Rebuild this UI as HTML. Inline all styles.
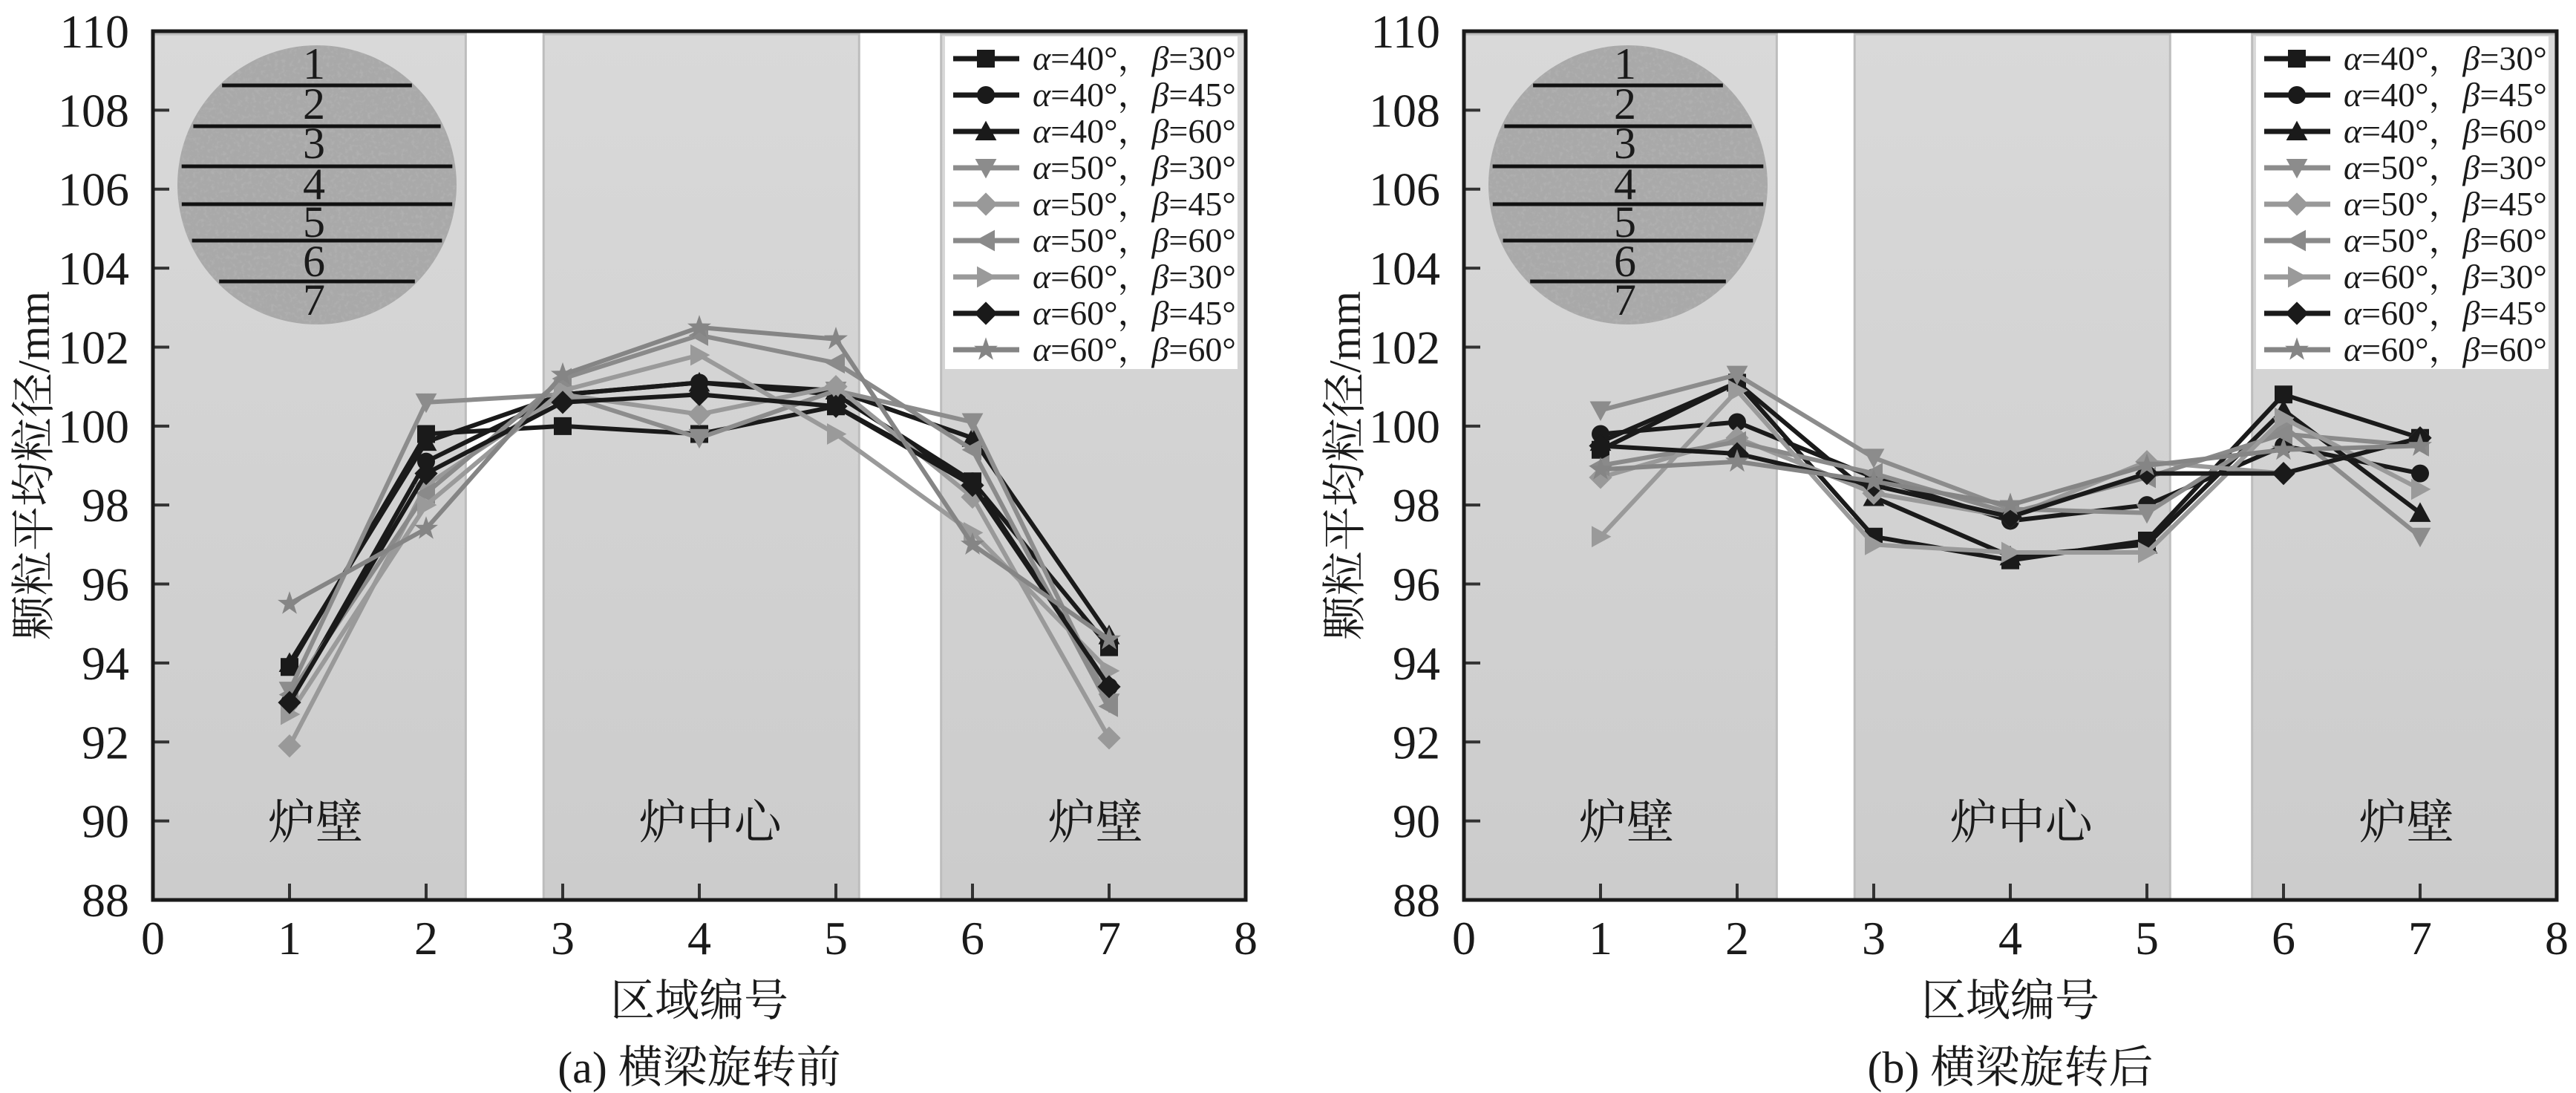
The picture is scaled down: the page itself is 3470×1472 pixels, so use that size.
<!DOCTYPE html>
<html><head><meta charset="utf-8"><style>
html,body{margin:0;padding:0;background:#fff;}
svg{display:block;}
svg text{font-family:"Liberation Serif","Noto Serif CJK SC","DejaVu Serif",serif;fill:#1a1a1a;}
</style></head><body>
<svg id="fig" width="3470" height="1472" viewBox="0 0 3470 1472" xmlns="http://www.w3.org/2000/svg">
<defs>
<filter id="speck" x="0" y="0" width="100%" height="100%">
<feTurbulence type="fractalNoise" baseFrequency="0.2" numOctaves="2" seed="3"/>
<feColorMatrix type="matrix" values="0 0 0 0 0.5  0 0 0 0 0.5  0 0 0 0 0.5  0 0 0 -3 1.6"/>
</filter>
<clipPath id="clipA"><circle cx="427" cy="249" r="188"/></clipPath>
<clipPath id="clipB"><circle cx="2193" cy="249" r="188"/></clipPath>
<linearGradient id="bgGrad" x1="0" y1="0" x2="0" y2="1">
<stop offset="0" stop-color="#d9d9d9"/><stop offset="1" stop-color="#cccccc"/>
</linearGradient>
</defs>
</svg>
<script>
const categories=[1,2,3,4,5,6,7];
const seriesLabels=["α=40°，β=30°","α=40°，β=45°","α=40°，β=60°","α=50°，β=30°","α=50°，β=45°","α=50°，β=60°","α=60°，β=30°","α=60°，β=45°","α=60°，β=60°"];
const yTicks=[88,90,92,94,96,98,100,102,104,106,108,110];
const xTicks=[0,1,2,3,4,5,6,7,8];
const regionNames=["炉壁","炉中心","炉壁"];
const regionCenters=[1.19,4.08,6.9];
const regionStarts=[0,2.86,5.77];
const regionEnds=[2.29,5.17,8];
const beforeS1=[93.9,99.8,100.0,99.8,100.5,98.6,94.4];
const beforeS2=[93.0,99.1,100.8,101.1,100.8,98.6,93.4];
const beforeS3=[94.0,99.6,100.8,101.1,100.9,99.7,94.7];
const beforeS4=[93.3,100.6,100.8,99.7,100.9,100.1,93.0];
const beforeS5=[91.9,98.5,100.8,100.3,101.0,98.2,92.1];
const beforeS6=[93.2,98.3,101.2,102.3,101.6,99.4,92.9];
const beforeS7=[92.7,98.0,100.9,101.8,99.8,97.3,93.8];
const beforeS8=[93.0,98.8,100.6,100.8,100.5,98.5,93.4];
const beforeS9=[95.5,97.4,101.3,102.5,102.2,97.0,94.6];
const afterS1=[99.4,101.1,97.2,96.6,97.1,100.8,99.7];
const afterS2=[99.8,100.1,98.7,97.6,98.0,99.5,98.8];
const afterS3=[99.6,101.1,98.2,96.7,97.0,100.4,97.8];
const afterS4=[100.4,101.3,99.2,97.9,97.8,100.0,97.2];
const afterS5=[98.7,99.7,98.3,97.7,99.1,98.8,99.7];
const afterS6=[99.0,99.6,98.8,97.8,98.7,99.8,99.5];
const afterS7=[97.2,100.9,97.0,96.8,96.8,100.2,98.4];
const afterS8=[99.5,99.3,98.5,97.7,98.8,98.8,99.7];
const afterS9=[98.9,99.1,98.6,98.0,99.0,99.4,99.5];
const beforeSeries=[beforeS1,beforeS2,beforeS3,beforeS4,beforeS5,beforeS6,beforeS7,beforeS8,beforeS9];
const afterSeries=[afterS1,afterS2,afterS3,afterS4,afterS5,afterS6,afterS7,afterS8,afterS9];
const colors=["#1a1a1a","#1a1a1a","#1a1a1a","#8c8c8c","#999999","#8a8a8a","#9a9a9a","#1a1a1a","#858585"];
const markers=["square","circle","tri-up","tri-down","diamond","tri-left","tri-right","diamond","star"];

const NS="http://www.w3.org/2000/svg";
const SERIF='"Liberation Serif","Noto Serif CJK SC","DejaVu Serif",serif';
const CJK='"Noto Serif CJK SC","Liberation Serif",serif';
const svg=document.getElementById('fig');
function mk(tag,attrs,parent){const e=document.createElementNS(NS,tag);for(const k in attrs)e.setAttribute(k,attrs[k]);if(tag==='text'&&!attrs['font-family'])e.setAttribute('font-family',SERIF);(parent||svg).appendChild(e);return e;}
function markerPath(type,cx,cy,s){
  switch(type){
    case"square":return `M${cx-s} ${cy-s}h${2*s}v${2*s}h${-2*s}Z`;
    case"circle":return `M${cx-s} ${cy}a${s} ${s} 0 1 0 ${2*s} 0a${s} ${s} 0 1 0 ${-2*s} 0Z`;
    case"tri-up":return `M${cx} ${cy-s*1.2}L${cx+s*1.2} ${cy+s}L${cx-s*1.2} ${cy+s}Z`;
    case"tri-down":return `M${cx} ${cy+s*1.2}L${cx+s*1.2} ${cy-s}L${cx-s*1.2} ${cy-s}Z`;
    case"tri-left":return `M${cx-s*1.2} ${cy}L${cx+s} ${cy-s*1.2}L${cx+s} ${cy+s*1.2}Z`;
    case"tri-right":return `M${cx+s*1.2} ${cy}L${cx-s} ${cy-s*1.2}L${cx-s} ${cy+s*1.2}Z`;
    case"diamond":return `M${cx} ${cy-s*1.3}L${cx+s*1.3} ${cy}L${cx} ${cy+s*1.3}L${cx-s*1.3} ${cy}Z`;
    case"star":{let d="";for(let i=0;i<10;i++){const r=i%2?s*0.55:s*1.4;const a=-Math.PI/2+i*Math.PI/5;d+=(i?"L":"M")+(cx+r*Math.cos(a)).toFixed(1)+" "+(cy+r*Math.sin(a)).toFixed(1);}return d+"Z";}
  }
}
function drawChart(ox,series,caption,key,clipId){
  const L=ox,R=ox+1472,T=42,B=1212;
  const xs=v=>L+(v-0)/8*(R-L);
  const ys=v=>B-(v-88)/22*(B-T);
  const g=mk('g',{});
  
  
  mk('rect',{x:L,y:T,width:R-L,height:B-T,fill:'#ffffff'},g);
  regionStarts.forEach((s,i)=>{
    const r=mk('rect',{x:xs(s),y:T+4,width:xs(regionEnds[i])-xs(s),height:B-T-4,fill:'url(#bgGrad)',stroke:'#bdbdbd','stroke-width':3},g);
    
    
  });
  const cx=L+221,cy=249,rad=188;
  const c=mk('circle',{cx:cx,cy:cy,r:rad,fill:'#a9a9a9'},g);
  
  
  const cg=mk('g',{'clip-path':`url(#${clipId})`},g);
  mk('rect',{x:cx-rad,y:cy-rad,width:2*rad,height:2*rad,fill:'#000',filter:'url(#speck)',opacity:0.4},cg);
  const lineYs=[115,170,224,275,324,379];
  lineYs.forEach((ly,i)=>{const dy=ly-cy;const hw=Math.sqrt(Math.max(0,rad*rad-dy*dy))-4;
    const l=mk('line',{x1:cx-hw,x2:cx+hw,y1:ly,y2:ly,stroke:'#111','stroke-width':5},g);
    
    });
  const numYs=[86,140,193,248,299,352,404];
  numYs.forEach((ny,i)=>{const t=mk('text',{x:cx-4,y:ny+20,'font-size':60,'text-anchor':'middle'},g);t.textContent=String(i+1);
    
    });
  regionNames.forEach((n,i)=>{const t=mk('text',{x:xs(regionCenters[i]),y:ys(90)+24,'font-size':64,'text-anchor':'middle','font-family':CJK},g);t.textContent=n;
    
    });
  xTicks.forEach(v=>{mk('line',{x1:xs(v),x2:xs(v),y1:B,y2:B-22,stroke:'#333','stroke-width':4},g);});
  yTicks.forEach(v=>{mk('line',{x1:L,x2:L+22,y1:ys(v),y2:ys(v),stroke:'#333','stroke-width':4},g);});
  series.forEach((vals,si)=>{
    const sg=mk('g',{},g);
    
    
    const pts=vals.map((v,i)=>xs(categories[i]).toFixed(1)+","+ys(v).toFixed(1)).join(" ");
    mk('polyline',{points:pts,fill:'none',stroke:colors[si],'stroke-width':6,'stroke-linejoin':'round'},sg);
    vals.forEach((v,i)=>{const p=mk('path',{d:markerPath(markers[si],xs(categories[i]),ys(v),12),fill:colors[si]},sg);
      
      });
  });
  const lg=mk('g',{},g);
  
  
  mk('rect',{x:L+1067,y:49,width:394,height:448,fill:'#ffffff'},lg);
  seriesLabels.forEach((lab,i)=>{
    const y=79+i*49;
    const eg=mk('g',{},lg);
    
    
    mk('line',{x1:L+1078,x2:L+1167,y1:y,y2:y,stroke:colors[i],'stroke-width':7},eg);
    mk('path',{d:markerPath(markers[i],L+1122,y,12),fill:colors[i]},eg);
    const t=mk('text',{x:L+1185,y:y+15,'font-size':46},eg);
    const parts=lab.split(/([αβ])/);
    parts.forEach(p=>{if(!p)return;const ts=mk('tspan',{},t);if(p==='α'||p==='β')ts.setAttribute('font-style','italic');ts.textContent=p;});
  });
  const fr=mk('rect',{x:L,y:T,width:R-L,height:B-T,fill:'none',stroke:'#1a1a1a','stroke-width':5},g);
  
  
  yTicks.forEach(v=>{const t=mk('text',{x:L-32,y:ys(v)+22,'font-size':64,'text-anchor':'end'},g);t.textContent=v;
    
    });
  xTicks.forEach(v=>{const t=mk('text',{x:xs(v),y:1285,'font-size':64,'text-anchor':'middle'},g);t.textContent=v;
    
    });
  const xt=mk('text',{x:(L+R)/2,y:1368,'font-size':60,'text-anchor':'middle','font-family':CJK},g);xt.textContent="区域编号";
  
  
  const yt=mk('text',{x:0,y:0,'font-size':60,'text-anchor':'middle','font-family':CJK,transform:`translate(${L-140},627) rotate(-90)`},g);
  yt.textContent="颗粒平均粒径/mm";
  
  
  const cp=mk('text',{x:(L+R)/2,y:1458,'font-size':60,'text-anchor':'middle'},g);cp.textContent=caption;
  
  
}
drawChart(206,beforeSeries,"(a) 横梁旋转前","before","clipA");
drawChart(1972,afterSeries,"(b) 横梁旋转后","after","clipB");
</script>
</body></html>
